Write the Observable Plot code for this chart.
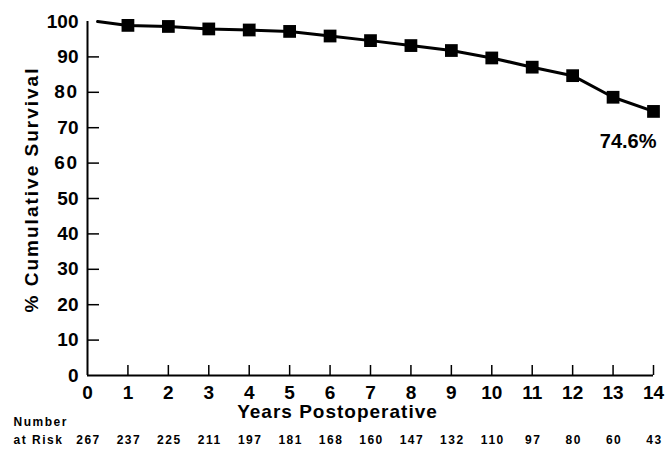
<!DOCTYPE html>
<html>
<head>
<meta charset="utf-8">
<script src="https://cdn.jsdelivr.net/npm/d3@7"></script>
<script src="https://cdn.jsdelivr.net/npm/@observablehq/plot@0.6"></script>
<style>
  html, body { margin: 0; padding: 0; background: #fff; }
</style>
</head>
<body>
<div id="chart"></div>
<script>
// Data
const lineYears = [0.25, 1, 2, 3, 4, 5, 6, 7, 8, 9, 10, 11, 12, 13, 14];
const lineSurvival = [100, 98.9, 98.6, 97.9, 97.6, 97.2, 95.9, 94.6, 93.2, 91.8, 89.7, 87.1, 84.7, 78.6, 74.6];
const markerYears = [1, 2, 3, 4, 5, 6, 7, 8, 9, 10, 11, 12, 13, 14];
const markerSurvival = [98.9, 98.6, 97.9, 97.6, 97.2, 95.9, 94.6, 93.2, 91.8, 89.7, 87.1, 84.7, 78.6, 74.6];
const riskYears = [0, 1, 2, 3, 4, 5, 6, 7, 8, 9, 10, 11, 12, 13, 14];
const atRisk = [267, 237, 225, 211, 197, 181, 168, 160, 147, 132, 110, 97, 80, 60, 43];
const xTicks = [0, 1, 2, 3, 4, 5, 6, 7, 8, 9, 10, 11, 12, 13, 14];
const yTicks = [0, 10, 20, 30, 40, 50, 60, 70, 80, 90, 100];
const finalLabel = "74.6%";
const xTitle = "Years Postoperative";
const yTitle = "% Cumulative Survival";
const riskTitle1 = "Number";
const riskTitle2 = "at Risk";

const lineData = lineYears.map((y, i) => ({year: y, s: lineSurvival[i]}));
const markerData = markerYears.map((y, i) => ({year: y, s: markerSurvival[i]}));
const riskData = riskYears.map((y, i) => ({year: y, n: atRisk[i]}));
const lastPoint = markerData[markerData.length - 1];

const font = "'Liberation Sans', Arial, Helvetica, sans-serif";

const svg = Plot.plot({
  width: 666,
  height: 451,
  marginLeft: 87,
  marginRight: 13,
  marginTop: 21,
  marginBottom: 76,
  style: {fontFamily: font, fontSize: "19px", fontWeight: "bold", color: "#000", background: "#fff"},
  x: {domain: [0, 14]},
  y: {domain: [0, 100]},
  marks: [
    // y tick labels
    Plot.axisY({ticks: yTicks, tickSize: 0, tickPadding: 9, label: null, fontSize: 19}),
    // inward y ticks
    Plot.axisY({ticks: yTicks.filter(d => d > 0 && d < 100), tickSize: 12, dx: 12, text: null, label: null, strokeWidth: 1.5}),
    // x tick labels
    Plot.axisX({ticks: xTicks, tickSize: 0, tickPadding: 10, label: null, fontSize: 19}),
    // inward x ticks
    Plot.axisX({ticks: xTicks.filter(d => d > 0), tickSize: 10, dy: -10, text: null, label: null, strokeWidth: 1.5}),
    // axis lines
    Plot.ruleX([0], {strokeWidth: 2}),
    Plot.ruleY([0], {strokeWidth: 2}),
    // survival line
    Plot.line(lineData, {x: "year", y: "s", stroke: "#000", strokeWidth: 3}),
    Plot.dot(markerData, {x: "year", y: "s", symbol: "square", r: 7.2, fill: "#000", stroke: "none"}),
    // final label
    Plot.text([lastPoint], {x: "year", y: "s", text: () => finalLabel, textAnchor: "end", dx: 3, dy: 30, fontSize: 20, fontWeight: "bold"}),
    // axis titles
    Plot.text([xTitle], {frameAnchor: "bottom", dx: -33, dy: 42, fontSize: 19, fontWeight: "bold"}),
    Plot.text([yTitle], {frameAnchor: "left", textAnchor: "middle", rotate: -90, dx: -56, dy: -9, fontSize: 19, fontWeight: "bold"}),
    // number at risk
    Plot.text(riskData, {x: "year", frameAnchor: "bottom", text: "n", dy: 68, dx: 1, fontSize: 12, fontWeight: "bold"}),
    Plot.text([riskTitle1], {frameAnchor: "bottom-left", textAnchor: "start", dx: -74, dy: 50, fontSize: 12, fontWeight: "bold"}),
    Plot.text([riskTitle2], {frameAnchor: "bottom-left", textAnchor: "start", dx: -74, dy: 68, fontSize: 12, fontWeight: "bold"})
  ]
});

const riskStrings = new Set([...atRisk.map(String), riskTitle1, riskTitle2]);
svg.querySelectorAll("text").forEach(t => {
  const s = t.textContent;
  if (riskStrings.has(s)) t.style.letterSpacing = "1.5px";
  if (s === yTitle) t.style.letterSpacing = "2px";
  if (s === xTitle) t.style.letterSpacing = "1px";
});

document.getElementById("chart").appendChild(svg);
</script>
</body>
</html>
